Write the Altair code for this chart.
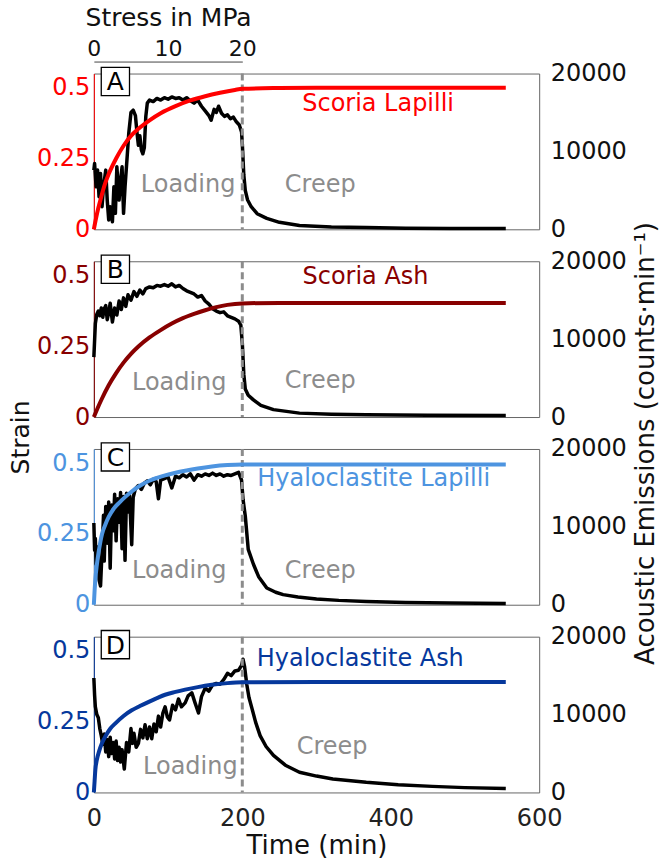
import altair as alt
import pandas as pd

# ---------------------------------------------------------------------------
# Acoustic emission rate (counts/min) and strain during loading + creep
# ---------------------------------------------------------------------------

# Panel A - Scoria Lapilli
ae_a_t = [0, 1, 3, 5, 7, 9, 11, 13, 16, 18, 20, 22, 25, 27, 29, 31, 34, 36, 38, 40, 42,
          45, 47, 50, 53, 56, 58, 60, 62, 64, 66, 68, 70, 72, 75, 80, 85, 90, 95, 100,
          105, 110, 115, 120, 125, 130, 135, 140, 145, 150, 155, 158, 162, 165, 168,
          172, 176, 180, 184, 188, 192, 196, 199, 200, 202, 204, 207, 212, 220, 233,
          250, 277, 320, 367, 420, 480, 555]
ae_a = [7600, 8450, 5460, 7600, 4180, 7170, 2900, 5460, 7600, 3750, 1200, 2900, 980, 5460,
        2050, 8020, 3750, 6320, 8020, 2050, 5460,
        9500, 12300, 15000, 15300, 14600, 12500, 10800, 12000, 10200, 9700, 10500, 14500,
        16200, 16600, 16400, 16800, 16600, 16900, 16700, 17000, 16800, 16900, 16600,
        16900, 16500, 16200, 16600, 15800, 15200, 14600, 14000, 15400, 15000, 15800,
        14900, 14500, 14700, 14200, 14400, 13800, 13400, 12500, 11000, 7000, 5000, 3800,
        2900, 2000, 1400, 900, 500, 300, 220, 150, 110, 90]
strain_a_t = [0, 3, 6, 10, 15, 20, 30, 40, 50, 60, 75, 90, 110, 130, 150, 170, 190, 200,
              250, 300, 400, 555]
strain_a = [0, 0.04, 0.075, 0.115, 0.16, 0.195, 0.25, 0.295, 0.33, 0.355, 0.385, 0.41,
            0.435, 0.455, 0.47, 0.482, 0.492, 0.496, 0.499, 0.5, 0.5, 0.5]

# Panel B - Scoria Ash
ae_b_t = [0, 2, 4, 6, 8, 10, 12, 14, 16, 18, 20, 22, 25, 28, 31, 34, 37, 40, 43, 46, 50,
          54, 58, 62, 66, 70, 75, 80, 85, 90, 95, 100, 105, 110, 115, 120, 125, 130, 135,
          140, 145, 150, 155, 160, 165, 170, 175, 180, 185, 190, 195, 198, 200, 202, 204,
          208, 215, 225, 242, 277, 320, 367, 450, 555]
ae_b = [7700, 12000, 13200, 13600, 13000, 14000, 12800, 13900, 14300, 12500, 13400, 14600,
        12200, 14000, 13100, 14900, 13800, 15300, 14200, 15700, 15000, 16100, 15500, 16300,
        15800, 16500, 16700, 16600, 16900, 16800, 17000, 16800, 17100, 16700, 16900, 16500,
        16200, 16000, 15800, 15400, 15600, 14900, 14500, 13900, 13600, 13400, 13500, 13000,
        12800, 12600, 12300, 11800, 9500, 5500, 3600, 2800, 2200, 1500, 950, 500, 350, 280,
        230, 180]
strain_b_t = [0, 5, 10, 20, 30, 40, 50, 60, 75, 90, 105, 120, 135, 150, 165, 180, 200, 250,
              555]
strain_b = [0, 0.031, 0.06, 0.112, 0.155, 0.192, 0.223, 0.249, 0.281, 0.307, 0.33, 0.349,
            0.364, 0.377, 0.388, 0.396, 0.401, 0.403, 0.403]

# Panel C - Hyaloclastite Lapilli
ae_c_t = [0, 1, 2, 3, 5, 7, 9, 11, 13, 14, 16, 18, 20, 22, 24, 26, 28, 30, 32, 34, 36, 38,
          40, 42, 44, 46, 48, 51, 53, 56, 60, 64, 68, 72, 76, 80, 84, 87, 90, 95, 100, 105,
          110, 115, 120, 125, 130, 135, 140, 145, 150, 155, 160, 165, 170, 175, 180, 185,
          190, 195, 199, 201, 204, 208, 215, 222, 233, 245, 255, 275, 300, 330, 367, 420,
          480, 555]
ae_c = [10500, 7000, 8500, 5200, 7400, 3200, 2400, 6800, 11500, 5600, 12600, 7900, 13200,
        4700, 12800, 9500, 14200, 8200, 13600, 10600, 14400, 7200, 13900, 5700, 14300,
        11900, 14100, 7700, 13800, 14900, 15300, 14800, 15600, 15900, 15400, 16100, 15800,
        13600, 16000, 16200, 16400, 15000, 16500, 16300, 16700, 16400, 16800, 16000, 16700,
        16500, 16800, 16600, 16900, 16600, 16800, 16500, 16700, 16600, 16800, 17000, 16000,
        13500, 11400, 7100, 5200, 3600, 2150, 1600, 1300, 1000, 740, 560, 430, 300, 220, 150]
strain_c_t = [0, 1, 2, 4, 7, 11, 15, 20, 27, 34, 42, 51, 62, 74, 85, 96, 110, 123, 140, 159,
              180, 200, 300, 555]
strain_c = [0, 0.05, 0.09, 0.14, 0.195, 0.25, 0.28, 0.31, 0.34, 0.36, 0.38, 0.40, 0.42,
            0.437, 0.448, 0.457, 0.466, 0.473, 0.481, 0.488, 0.493, 0.495, 0.495, 0.495]

# Panel D - Hyaloclastite Ash
ae_d_t = [0, 1, 2, 4, 6, 8, 10, 12, 14, 16, 18, 20, 22, 24, 26, 28, 30, 32, 34, 36, 38, 41,
          44, 47, 50, 52, 54, 57, 60, 63, 66, 69, 72, 75, 78, 81, 84, 87, 90, 93, 96, 99,
          102, 106, 110, 114, 118, 123, 127, 132, 136, 141, 145, 150, 155, 160, 165, 170,
          175, 180, 185, 190, 195, 199, 201, 203, 206, 209, 213, 218, 224, 232, 242, 258,
          277, 300, 322, 367, 410, 456, 500, 555]
ae_d = [14700, 12500, 11000, 10000, 9600, 8200, 7300, 6200, 7500, 5200, 6800, 4600, 7100,
        5000, 6400, 4300, 6600, 4100, 5800, 3900, 5500, 3000, 6400, 5200, 8200, 6300, 7600,
        5800, 6300, 8100, 7000, 8700, 6900, 8400, 6900, 8800, 7800, 9800, 8400, 10200,
        11000, 9700, 9300, 11200, 10600, 12000, 11000, 11500, 12400, 12800, 11600, 10200,
        12300, 13400, 13000, 13800, 14000, 13900, 14500, 15300, 15000, 15600, 15700, 16300,
        17100, 16200, 13900, 12200, 10800, 9000, 7300, 5900, 4750, 3500, 2600, 2100, 1730,
        1300, 1000, 780, 620, 500]
strain_d_t = [0, 1, 2, 4, 7, 11, 16, 22, 29, 40, 51, 62, 74, 85, 96, 110, 123, 140, 159,
              180, 200, 300, 555]
strain_d = [0, 0.04, 0.08, 0.115, 0.145, 0.175, 0.2, 0.225, 0.244, 0.27, 0.29, 0.305,
            0.32, 0.333, 0.345, 0.355, 0.363, 0.372, 0.38, 0.386, 0.389, 0.39, 0.39]

letters = ["A", "B", "C", "D"]
materials = ["Scoria Lapilli", "Scoria Ash", "Hyaloclastite Lapilli", "Hyaloclastite Ash"]
colors = ["#ff0000", "#880000", "#4d94e0", "#06389c"]
# annotation anchors (time in min, strain)
material_pos = [(383, 0.444), (366, 0.493), (377, 0.443), (359, 0.47)]
loading_pos = [(127, 0.155), (115, 0.119), (115, 0.12), (130, 0.09)]
creep_pos = [(305, 0.155), (305, 0.126), (305, 0.12), (321, 0.16)]
letter_pos = (29, 0.522)

time_ticks = [0, 200, 400, 600]
strain_ticks = [0, 0.25, 0.5]
ae_ticks = [0, 10000, 20000]
stress_ticks = [0, 10, 20]
end_of_loading = 200          # min
loading_rate = 0.1            # MPa per min

W, H = 446, 156
GAP = 32
FONT = "DejaVu Sans"
GREY = "#8c8c8c"
INK = "#111111"

series = [
    (ae_a_t, ae_a, strain_a_t, strain_a),
    (ae_b_t, ae_b, strain_b_t, strain_b),
    (ae_c_t, ae_c, strain_c_t, strain_c),
    (ae_d_t, ae_d, strain_d_t, strain_d),
]

strain_scale = alt.Scale(domain=[0, 0.55], nice=False)


def panel(i):
    ae_t, ae, st_t, st = series[i]
    color = colors[i]
    last = i == 3

    x_axis = alt.Axis(values=time_ticks, title="Time (min)", ticks=False, labelPadding=14,
                      domain=False, titlePadding=2, labelColor="#222", labelFlush=False,
                      titleColor=INK, titleFontSize=26) if last else None
    x = alt.X("t:Q", scale=alt.Scale(domain=[0, 600], nice=False), axis=x_axis)

    y_strain_axis = alt.Axis(
        values=strain_ticks, format=".2~f", labelColor=color, domainColor=color,
        domainWidth=1, ticks=False, labelPadding=4, labelFlush=False,
        title="Strain" if i == 1 else None, titleColor=INK, titlePadding=8,
        titleBaseline="alphabetic", titleY=176)
    y_strain = alt.Y("s:Q", scale=strain_scale, axis=y_strain_axis)
    y_strain_plain = alt.Y("s:Q", scale=strain_scale, axis=None)

    y_ae_axis = alt.Axis(
        orient="right", values=ae_ticks, format="d", labelColor=INK,
        domain=False, ticks=False, labelPadding=11, labelFlush=False,
        title="Acoustic Emissions (counts·min⁻¹)" if i == 1 else None,
        titleColor=INK, titleAngle=270, titleBaseline="top", titlePadding=6,
        titleFontSize=26, titleY=182)
    y_ae = alt.Y("ae:Q", scale=alt.Scale(domain=[0, 20000], nice=False), axis=y_ae_axis)

    ae_df = pd.DataFrame({"t": ae_t, "ae": ae})
    st_df = pd.DataFrame({"t": st_t, "s": st})

    ae_line = alt.Chart(ae_df).mark_line(color="black", strokeWidth=3.5,
                                         strokeJoin="round").encode(x=x, y=y_ae)

    divider = alt.Chart(pd.DataFrame({"t": [end_of_loading]})).mark_rule(
        color=GREY, strokeWidth=3, strokeDash=[7, 4]).encode(x=x)

    strain_line = alt.Chart(st_df).mark_line(color=color, strokeWidth=4,
                                             interpolate="monotone").encode(x=x, y=y_strain)

    labels_df = pd.DataFrame({
        "t": [material_pos[i][0], loading_pos[i][0], creep_pos[i][0]],
        "s": [material_pos[i][1], loading_pos[i][1], creep_pos[i][1]],
        "label": [materials[i], "Loading", "Creep"],
        "c": [color, GREY, GREY],
    })
    labels = alt.Chart(labels_df).mark_text(font=FONT, fontSize=24, baseline="middle").encode(
        x=x, y=y_strain_plain, text="label:N", color=alt.Color("c:N", scale=None))

    letter_df = pd.DataFrame({"t": [letter_pos[0]], "s": [letter_pos[1]], "label": [letters[i]]})
    box = alt.Chart(letter_df).mark_point(shape="square", size=800, filled=True,
                                          color="white", stroke="black", strokeWidth=1.3,
                                          opacity=1).encode(x=x, y=y_strain_plain)
    letter = alt.Chart(letter_df).mark_text(font=FONT, fontSize=25, baseline="middle",
                                            color="black", dy=1).encode(
        x=x, y=y_strain_plain, text="label:N")

    return alt.layer(ae_line, divider, strain_line, labels, box, letter).resolve_scale(
        y="independent").properties(width=W, height=H)


# stress axis above the first panel (loading at a constant rate)
stress_df = pd.DataFrame({"p": stress_ticks})
stress = alt.Chart(stress_df).mark_point(opacity=0).encode(
    x=alt.X("p:Q",
            scale=alt.Scale(domain=[0, end_of_loading * loading_rate], nice=False),
            axis=alt.Axis(orient="top", values=stress_ticks, title="Stress in MPa",
                          offset=-(GAP - 11), ticks=False, labelPadding=1,
                          labelFontSize=22, labelFlush=False, domainColor="#444",
                          labelColor=INK, titleColor=INK, titlePadding=7)),
    y=alt.value(0)
).properties(width=W * end_of_loading / 600, height=1,
             view=alt.ViewBackground(stroke="transparent"))

chart = alt.vconcat(stress, *[panel(i) for i in range(4)], spacing=GAP,
                    bounds="flush").properties(
    padding={"left": 8, "right": 0, "top": 4, "bottom": 0}
).configure(font=FONT).configure_axis(
    labelFont=FONT, titleFont=FONT, labelFontSize=24, titleFontSize=25,
    titleFontWeight="normal", grid=False
).configure_view(stroke="#666", strokeWidth=1)

chart.save("out.html", embed_options={"renderer": "svg", "actions": False})
